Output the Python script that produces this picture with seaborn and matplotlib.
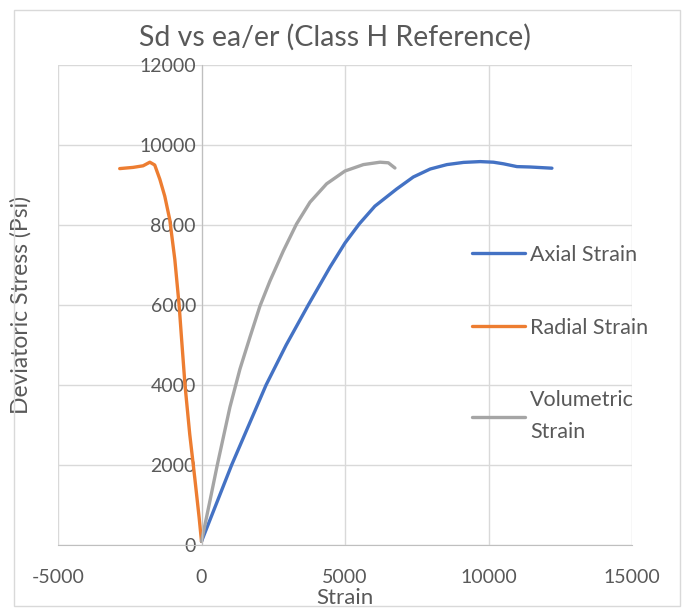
import pandas as pd
import matplotlib.pyplot as plt
import seaborn as sns
from matplotlib.patches import Rectangle

# Curve data (strain, deviatoric stress in psi)
axial_x = [0, 500, 1050, 1650, 2250, 2950, 3720, 4480, 5000, 5500, 6040, 6340,
           6800, 7380, 7970, 8550, 9130, 9710, 10170, 10520, 10990, 11450, 12210]
axial_y = [90, 1000, 2000, 3000, 4000, 5000, 6000, 6950, 7550, 8030, 8470, 8640,
           8900, 9200, 9400, 9510, 9565, 9585, 9570, 9530, 9460, 9450, 9420]

radial_x = [0, -80, -235, -410, -575, -700, -780, -930, -1105, -1280, -1450,
            -1630, -1800, -2035, -2385, -2850]
radial_y = [90, 670, 1680, 2770, 4000, 5210, 6000, 7140, 8130, 8720, 9140,
            9500, 9570, 9480, 9440, 9410]

vol_x = [0, 290, 550, 990, 1340, 1690, 2035, 2385, 2850, 3310, 3780, 4360,
         5000, 5640, 6220, 6510, 6740]
vol_y = [90, 1090, 2000, 3445, 4400, 5200, 5970, 6600, 7350, 8025, 8570, 9030,
         9350, 9510, 9570, 9555, 9425]

series_names = ['Axial Strain', 'Radial Strain', 'Volumetric\nStrain']
series_colors = ['#4472C4', '#ED7D31', '#A5A5A5']

x_ticks = [-5000, 0, 5000, 10000, 15000]
y_ticks = [0, 2000, 4000, 6000, 8000, 10000, 12000]

# Build long-form table for seaborn
frames = []
for name, xs, ys in zip(series_names, [axial_x, radial_x, vol_x], [axial_y, radial_y, vol_y]):
    frames.append(pd.DataFrame({'Strain': xs, 'Stress': ys, 'Series': name}))
df = pd.concat(frames, ignore_index=True)

sns.set_style('white')
plt.rcParams['font.family'] = ['Lato', 'DejaVu Sans']
plt.rcParams['axes.unicode_minus'] = False
text_color = '#595959'

fig = plt.figure(figsize=(6.82, 6.09), dpi=100)
ax = fig.add_axes([58 / 682, 1 - 545 / 609, 574 / 682, 480 / 609])

sns.lineplot(data=df, x='Strain', y='Stress', hue='Series', hue_order=series_names,
             palette=dict(zip(series_names, series_colors)), sort=False, estimator=None,
             linewidth=2.4, ax=ax)

ax.set_xlim(-5000, 15000)
ax.set_ylim(0, 12000)
ax.set_xticks(x_ticks)
ax.set_yticks(y_ticks)
ax.grid(True, color='#d9d9d9', linewidth=1)
ax.set_axisbelow(True)

for side in ['top', 'right']:
    ax.spines[side].set_visible(False)
ax.spines['left'].set_position(('data', 0))
ax.spines['left'].set_color('#bfbfbf')
ax.spines['bottom'].set_color('#bfbfbf')
ax.tick_params(axis='both', length=0, labelsize=14, labelcolor=text_color)
ax.tick_params(axis='x', pad=17)
ax.tick_params(axis='y', pad=4)

ax.set_xlabel('Strain', fontsize=16, color=text_color)
ax.xaxis.set_label_coords(0.5, -0.09)
ax.set_ylabel('Deviatoric Stress (Psi)', fontsize=16.5, color=text_color)
ax.yaxis.set_label_coords(-0.046, 0.5)

fig.text(335 / 682, 1 - 37 / 609, 'Sd vs ea/er (Class H Reference)', ha='center', va='center',
         fontsize=20.5, color=text_color)

leg = ax.legend(loc='upper left', bbox_to_anchor=(472 / 682, 1 - 245 / 609), bbox_transform=fig.transFigure,
                frameon=False, fontsize=15.5, labelcolor=text_color, handlelength=2.45, handletextpad=0.25,
                labelspacing=2.45, borderpad=0, borderaxespad=0)
for t in leg.get_texts():
    t.set_linespacing(1.7)

# light chart border like the spreadsheet chart area
fig.patches.append(Rectangle((14 / 682, 3 / 609), 666 / 682, 596 / 609, transform=fig.transFigure,
                             fill=False, edgecolor='#d9d9d9', linewidth=1))

fig.savefig('out.png', dpi=100)
